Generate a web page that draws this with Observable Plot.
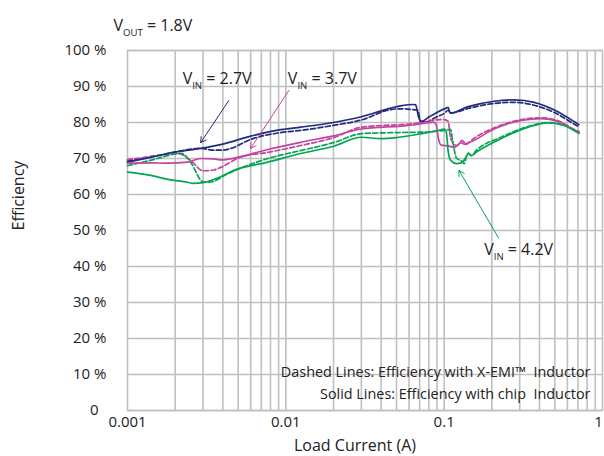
<!DOCTYPE html>
<html><head><meta charset="utf-8">
<script src="https://cdn.jsdelivr.net/npm/d3@7"></script>
<script src="https://cdn.jsdelivr.net/npm/@observablehq/plot@0.6"></script>
<style>body{margin:0;background:#fff}</style>
</head><body><div id="chart"></div>
<script>
// ---- data: [load current (A), efficiency (%)] ----
const vin27Chip = [[0.001,69.0],[0.0014,70.3],[0.002,71.8],[0.0029,72.8],[0.004,74.0],[0.006,76.2],[0.0093,78.0],[0.0124,78.7],[0.02,80.0],[0.03,81.6],[0.046,84.0],[0.053,84.6],[0.064,85.0],[0.066,84.9],[0.069,81.5],[0.072,80.3],[0.08,81.5],[0.09,82.8],[0.103,84.0],[0.106,84.2],[0.109,82.6],[0.142,84.4],[0.207,85.9],[0.277,86.3],[0.37,85.6],[0.5,83.4],[0.66,80.3],[0.71,79.4]];
const vin27Xemi = [[0.001,69.3],[0.0014,70.5],[0.002,71.8],[0.0029,72.8],[0.0035,72.3],[0.004,72.3],[0.0045,72.8],[0.006,75.3],[0.0093,77.2],[0.0124,77.8],[0.02,79.2],[0.03,80.7],[0.046,83.6],[0.053,83.8],[0.068,83.4],[0.071,80.2],[0.074,79.9],[0.09,81.6],[0.1,82.5],[0.106,83.4],[0.11,82.6],[0.142,83.9],[0.207,85.3],[0.277,85.6],[0.37,84.8],[0.5,82.7],[0.66,79.6],[0.71,78.8]];
const vin37Chip = [[0.001,68.7],[0.0014,68.8],[0.0018,68.7],[0.0024,69.0],[0.0029,70.0],[0.0035,69.9],[0.0039,69.6],[0.0052,70.5],[0.0077,72.5],[0.0124,74.5],[0.02,76.3],[0.03,78.2],[0.053,79.0],[0.064,79.3],[0.086,80.1],[0.089,79.5],[0.092,75.5],[0.096,73.7],[0.106,73.5],[0.116,73.1],[0.128,74.4],[0.134,74.0],[0.138,74.2],[0.15,74.8],[0.207,78.2],[0.307,80.6],[0.41,81.1],[0.53,80.2],[0.66,78.0],[0.71,77.4]];
const vin37Xemi = [[0.001,69.7],[0.0014,70.5],[0.0021,71.4],[0.0025,69.5],[0.003,66.6],[0.0035,66.8],[0.0039,67.6],[0.0052,70.4],[0.0077,71.7],[0.0124,73.6],[0.02,75.8],[0.03,78.7],[0.064,79.7],[0.096,80.8],[0.1,80.8],[0.106,80.3],[0.11,75.5],[0.12,73.6],[0.13,75.0],[0.138,73.9],[0.15,75.2],[0.207,78.5],[0.307,80.8],[0.41,81.3],[0.53,80.4],[0.66,78.1],[0.71,77.5]];
const vin42Chip = [[0.001,66.2],[0.0014,65.3],[0.0018,64.2],[0.0024,63.4],[0.0026,63.1],[0.003,63.3],[0.0039,65.0],[0.0047,66.7],[0.0077,69.0],[0.0124,71.4],[0.02,73.4],[0.03,75.9],[0.04,75.5],[0.05,75.8],[0.072,76.9],[0.096,78.0],[0.1,78.2],[0.103,77.5],[0.106,72.0],[0.11,69.5],[0.12,68.6],[0.128,68.8],[0.138,70.5],[0.142,71.5],[0.148,70.8],[0.16,71.8],[0.228,75.5],[0.34,78.7],[0.45,79.9],[0.57,79.2],[0.66,77.8],[0.71,77.0]];
const vin42Xemi = [[0.001,68.0],[0.0014,69.5],[0.0022,71.4],[0.0025,69.0],[0.003,63.5],[0.0033,63.4],[0.0043,65.8],[0.0077,70.0],[0.0124,72.2],[0.02,74.4],[0.03,76.9],[0.05,77.2],[0.072,77.3],[0.1,77.8],[0.11,78.0],[0.113,75.0],[0.12,70.0],[0.128,69.4],[0.134,68.6],[0.138,70.5],[0.142,71.4],[0.148,70.8],[0.16,72.3],[0.228,75.9],[0.34,78.9],[0.45,80.0],[0.57,79.3],[0.66,78.0],[0.71,77.2]];

const xTicks = [0.001, 0.01, 0.1];
const xTickLabels = ["0.001", "0.01", "0.1"];
const xEndTick = [1];
const xGrid = [2,3,4,5,6,7,8,9,10,20,30,40,50,60,70,80,90,100,200,300,400,500,600,700,800,900].map(v => v / 1000);
const yTicks = [10,20,30,40,50,60,70,80,90,100];
const yZeroTick = [0];

// annotations: [x (A), y (%), text, series]
const labels = [[0.00223, 92.2, "V{IN} = 2.7V", "2.7"], [0.0103, 92.2, "V{IN} = 3.7V", "3.7"], [0.179, 44.7, "V{IN} = 4.2V", "4.2"]];
const arrows = [[0.00436, 86.1, 0.0029, 74.4, "2.7"], [0.01045, 88.9, 0.006, 72.8, "3.7"], [0.22, 48, 0.124, 66.7, "4.2"]];

const colors = {"2.7": "#232b7c", "3.7": "#c4449f", "4.2": "#00a651"};
const series = [
  {v:"2.7", dash:true, pts:vin27Xemi}, {v:"3.7", dash:true, pts:vin37Xemi}, {v:"4.2", dash:true, pts:vin42Xemi},
  {v:"2.7", dash:false, pts:vin27Chip}, {v:"3.7", dash:false, pts:vin37Chip}, {v:"4.2", dash:false, pts:vin42Chip}
];

const chart = Plot.plot({
  width: 604, height: 456,
  marginTop: 50, marginLeft: 127, marginRight: 2, marginBottom: 46,
  style: {fontFamily: "'Open Sans', sans-serif", fontSize: "15px", color: "#222", background: "#fff"},
  x: {type: "log", domain: [0.001, 1]},
  y: {domain: [0, 100]},
  marks: [
    Plot.gridX(xGrid, {stroke: "#c0c0c0", strokeOpacity: 1, strokeWidth: 1.6}),
    Plot.gridY([...yZeroTick, ...yTicks], {stroke: "#c0c0c0", strokeOpacity: 1, strokeWidth: 1.6}),
    Plot.frame({stroke: "#c0c0c0", strokeWidth: 1.6}),
    Plot.axisX(xTicks, {tickSize: 0, tickPadding: 6, tickFormat: d => xTickLabels[xTicks.indexOf(d)], label: null, fontSize: 15}),
    Plot.axisX(xEndTick, {tickSize: 0, tickPadding: 6, tickFormat: d => String(d), dx: -4, label: null, fontSize: 15}),
    Plot.axisY(yTicks, {tickSize: 0, tickPadding: 21, tickFormat: d => d + " %", label: null, fontSize: 15}),
    Plot.axisY(yZeroTick, {tickSize: 0, tickPadding: 29, tickFormat: d => String(d), label: null, fontSize: 15}),
    ...series.map(s => Plot.line(s.pts, {x: d => d[0], y: d => d[1], stroke: colors[s.v], strokeWidth: 1.7,
        strokeDasharray: s.dash ? "5,2.5" : null, curve: "monotone-x"})),
    Plot.arrow(arrows, {x1: d => d[0], y1: d => d[1], x2: d => d[2], y2: d => d[3], stroke: d => colors[d[4]], strokeWidth: 1, headLength: 9, bend: false}),
    Plot.text(labels, {x: d => d[0], y: d => d[1], text: d => d[2], textAnchor: "start", fontSize: 16, fill: "#222"}),
    Plot.text(["V{OUT} = 1.8V"], {frameAnchor: "top-left", dx: -14, dy: -31, textAnchor: "start", fontSize: 16, fill: "#222"}),
    Plot.text(["Dashed Lines: Efficiency with X-EMI™  Inductor"], {frameAnchor: "bottom-right", dx: -12, dy: -34, textAnchor: "end", fontSize: 14.4, fill: "#222"}),
    Plot.text(["Solid Lines: Efficiency with chip  Inductor"], {frameAnchor: "bottom-right", dx: -12, dy: -12, textAnchor: "end", fontSize: 14.4, fill: "#222"}),
    Plot.text(["Load Current (A)"], {frameAnchor: "bottom", dy: 40, dx: -10, fontSize: 16, fill: "#222"}),
    Plot.text(["Efficiency"], {frameAnchor: "left", dx: -109, rotate: -90, fontSize: 16, fill: "#222"})
  ]
});

// subscripts: "A{B}C" -> A, subscript B, C
d3.select(chart).selectAll("text").each(function() {
  const t = this.textContent;
  const m = t.match(/^(.*)\{(.*)\}(.*)$/);
  if (!m) return;
  const el = d3.select(this);
  el.text(null).style("white-space", "pre");
  el.append("tspan").text(m[1]);
  el.append("tspan").attr("dy", 5).attr("font-size", "0.6em").text(m[2]);
  el.append("tspan").attr("dy", -5).text(" " + m[3].trim());
});

document.getElementById("chart").appendChild(chart);
</script>
</body></html>
